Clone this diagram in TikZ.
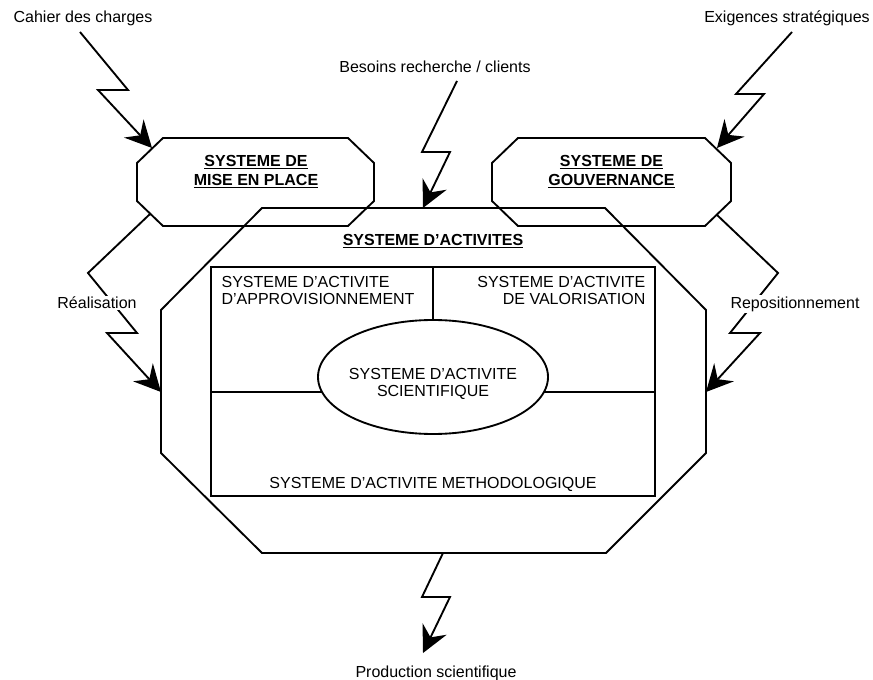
\documentclass[tikz,border=0pt]{standalone}
\usepackage{fontspec}
\setmainfont{Liberation Sans}
\usetikzlibrary{arrows.meta,shapes.geometric,calc}
\begin{document}
\begin{tikzpicture}[x=0.75pt,y=-0.75pt,
  every node/.style={font=\fontsize{12}{12.75}\selectfont, inner sep=1pt},
  outline/.style={line width=1.4pt, line join=miter},
  bolt/.style={line width=1.4pt, line join=miter, -{Stealth[length=20pt,width=20pt,inset=7pt]}},
  boldlbl/.style={font=\fontsize{12}{14.25}\selectfont\bfseries, align=center},
  blank/.style={fill=white, inner sep=1pt}]
\useasboundingbox (0,0) rectangle (873,680);

% --- small boxes ---
\draw[outline] (163,138) -- (348,138) -- (374,163) -- (374,201) -- (348,226) -- (163,226) -- (137,201) -- (137,163) -- cycle;
\coordinate (mTL) at (152,148);
\coordinate (mBL) at (150,214);
\node[boldlbl] (mise) at (256,171.5) {\underline{SYSTEME DE}\\\underline{MISE EN PLACE}};

\draw[outline] (518,138) -- (705,138) -- (731,163) -- (731,201) -- (705,226) -- (518,226) -- (492,201) -- (492,163) -- cycle;
\coordinate (gTR) at (717,148);
\coordinate (gBR) at (717,215);
\node[boldlbl] (gouv) at (611.5,171.5) {\underline{SYSTEME DE}\\\underline{GOUVERNANCE}};

% --- big octagon ---
\draw[outline] (262,208) -- (605,208) -- (706,310) -- (706,453) -- (606,553) -- (262,553) -- (161,453) -- (161,310) -- cycle;
\coordinate (aTop) at (423,208);
\coordinate (aLeft) at (161,392);
\coordinate (aRight) at (706,392);
\coordinate (aBot) at (443,553);
\node[boldlbl] (act) at (433,241) {\underline{SYSTEME D’ACTIVITES}};

% --- inner rectangle ---
\node[draw, outline, minimum width=333pt, minimum height=171.75pt] (inner) at (433,381.5) {};
\node[draw, outline, ellipse, minimum width=172.5pt, minimum height=85.5pt] (sci) at (433,377) {};
\coordinate (eL) at (322,392);
\coordinate (eR) at (544,392);
\draw[outline] (inner.west |- eL) -- (eL);
\draw[outline] (eR) -- (inner.east |- eR);
\draw[outline] (inner.north -| sci.north) -- (sci.north);

\node[align=left, anchor=west] (appro) at (220,290.5) {SYSTEME D’ACTIVITE\\D’APPROVISIONNEMENT};
\node[align=right, anchor=east] (valo) at (647,290.5) {SYSTEME D’ACTIVITE\\DE VALORISATION};
\node[align=center] (scit) at (433,384) {SYSTEME D’ACTIVITE\\SCIENTIFIQUE};
\node (metho) at (433,484) {SYSTEME D’ACTIVITE METHODOLOGIQUE};

% --- external labels ---
\node (cahier) at (83,18) {Cahier des charges};
\node (exig) at (787,18) {Exigences stratégiques};
\node (besoins) at (435,67) {Besoins recherche / clients};
\node (prod) at (436,673) {Production scientifique};

\coordinate (cS) at (80,32);
\coordinate (eS) at (792,32);
\coordinate (bS) at (457,81);

% --- lightning arrows ---
\draw[bolt] (cS) -- (128,90) -- (98,90) -- (mTL);
\draw[bolt] (eS) -- (736,94) -- (764,94) -- (gTR);
\draw[bolt] (bS) -- (422,152) -- (450,152) -- (aTop);
\draw[bolt] (mBL) -- (88,273) -- (137,333) -- (107,333) -- (aLeft);
\draw[bolt] (gBR) -- (778,273) -- (730,333) -- (760,333) -- (aRight);
\draw[bolt] (aBot) -- (422,597) -- (450,597) -- (423,653);

\node[blank] (real) at (97,303) {Réalisation};
\node[blank] (repo) at (795,304) {Repositionnement};
\end{tikzpicture}
\end{document}
